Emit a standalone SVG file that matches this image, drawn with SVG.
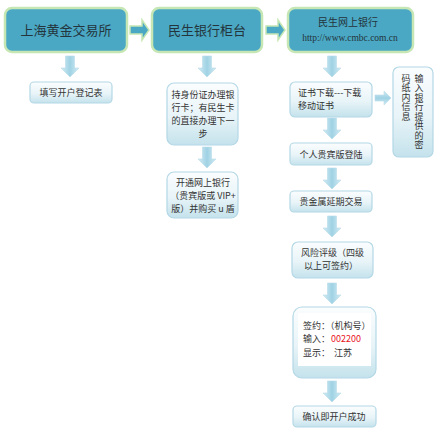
<svg xmlns="http://www.w3.org/2000/svg" width="440" height="432" viewBox="0 0 440 432">
<defs>
<linearGradient id="lg" x1="0" y1="0" x2="0" y2="1">
<stop offset="0" stop-color="#fbfdfe"/>
<stop offset="0.55" stop-color="#e8f4f8"/>
<stop offset="1" stop-color="#c4e2ec"/>
</linearGradient>
<linearGradient id="ag" x1="0" y1="0" x2="1" y2="0">
<stop offset="0" stop-color="#d4ecf4"/>
<stop offset="0.5" stop-color="#9fd2e4"/>
<stop offset="1" stop-color="#d4ecf4"/>
</linearGradient>
<linearGradient id="agh" x1="0" y1="0" x2="0" y2="1">
<stop offset="0" stop-color="#d4ecf4"/>
<stop offset="0.5" stop-color="#9fd2e4"/>
<stop offset="1" stop-color="#d4ecf4"/>
</linearGradient>
<path id="da" d="M-4.5,0 h9 v12 h4.5 l-9,9 l-9,-9 h4.5 z"/>
<path id="ra" d="M0,-4 h12 v-6 l7,10 l-7,10 v-6 h-12 z"/>
</defs>
<style>
.top{fill:#4aa8c4;stroke:#c6e6b4;stroke-width:2.5}
.tt{font-family:"Noto Sans CJK SC","Noto Sans",sans-serif;fill:#24343c;text-anchor:middle}
.box{fill:url(#lg);stroke:#b4d8e6;stroke-width:1.2}
.t{font-family:"Noto Sans CJK SC","Noto Sans",sans-serif;font-size:9px;fill:#333}
.tc{text-anchor:middle}
.vt{font-family:"Noto Sans CJK SC","Noto Sans",sans-serif;font-size:9px;fill:#333;writing-mode:vertical-rl;letter-spacing:0.5px}
.dar{fill:url(#ag);stroke:#b8dcea;stroke-width:0.6}
.har{fill:#4aa8c4;stroke:#c6e6b4;stroke-width:1.5}
</style>
<rect width="440" height="432" fill="#ffffff"/>
<g id="connectors">
<use href="#ra" x="130" y="30" class="har"/>
<use href="#ra" x="266" y="30" class="har"/>
<use href="#da" x="70" y="56" class="dar"/>
<use href="#da" x="207" y="56" class="dar"/>
<use href="#da" x="207" y="147" class="dar"/>
<use href="#da" x="332" y="56" class="dar"/>
<use href="#da" x="332" y="118" class="dar"/>
<use href="#da" x="332" y="168" class="dar"/>
<use href="#da" x="332" y="216" class="dar"/>
<use href="#da" x="332" y="283" class="dar"/>
<use href="#da" x="332" y="381" class="dar"/>
<path d="M375,95 h9 v-4 l7,7 l-7,7 v-4 h-9 z" fill="url(#agh)" stroke="#b8dcea" stroke-width="0.6"/>
</g>
<g id="n1">
<rect x="5" y="8" width="122" height="44" rx="7" class="top"/>
<text x="66" y="35" class="tt" font-size="13">上海黄金交易所</text>
</g>
<g id="n2">
<rect x="152" y="8" width="110" height="44" rx="7" class="top"/>
<text x="207" y="35" class="tt" font-size="13">民生银行柜台</text>
</g>
<g id="n3">
<rect x="288" y="8" width="125" height="44" rx="7" class="top"/>
<text x="348" y="26" class="tt" font-size="10">民生网上银行</text>
<text x="350" y="41" class="tt" font-size="9.5" style="font-family:'Liberation Serif',serif">http://www.cmbc.com.cn</text>
</g>
<g id="n4">
<rect x="30" y="82" width="82" height="21" rx="4" class="box"/>
<text x="71" y="96" class="t tc">填写开户登记表</text>
</g>
<g id="n5">
<rect x="167" y="83" width="71" height="62" rx="7" class="box"/>
<text class="t tc"><tspan x="203" y="98">持身份证办理银</tspan><tspan x="203" y="111">行卡；有民生卡</tspan><tspan x="203" y="124">的直接办理下一</tspan><tspan x="203" y="137">步</tspan></text>
</g>
<g id="n6">
<rect x="167" y="172" width="71" height="46" rx="7" class="box"/>
<text class="t tc"><tspan x="203" y="186">开通网上银行</tspan><tspan x="203" y="199">（贵宾版或 VIP+</tspan><tspan x="203" y="212">版）并购买 u 盾</tspan></text>
</g>
<g id="n7">
<rect x="290" y="82" width="82" height="35" rx="5" class="box"/>
<text class="t"><tspan x="298" y="96">证书下载---下载</tspan><tspan x="298" y="109">移动证书</tspan></text>
</g>
<g id="n8">
<rect x="393" y="67" width="40" height="90" rx="6" class="box"/>
<text x="419" y="74" class="vt">输入银行提供的密</text>
<text x="406" y="74" class="vt">码纸内信息</text>
</g>
<g id="n9">
<rect x="290" y="143" width="82" height="22" rx="4" class="box"/>
<text x="331" y="158" class="t tc">个人贵宾版登陆</text>
</g>
<g id="n10">
<rect x="290" y="191" width="82" height="21" rx="4" class="box"/>
<text x="331" y="205" class="t tc">贵金属延期交易</text>
</g>
<g id="n11">
<rect x="292" y="242" width="81" height="36" rx="6" class="box"/>
<text class="t"><tspan x="301" y="256">风险评级（四级</tspan><tspan x="304" y="269">以上可签约）</tspan></text>
</g>
<g id="n12">
<rect x="293" y="307" width="83" height="71" rx="9" class="box"/>
<rect x="298" y="313" width="73" height="53" fill="#ffffff"/>
<text class="t"><tspan x="303" y="329">签约：（机构号）</tspan><tspan x="303" y="342">输入：</tspan><tspan x="303" y="356">显示：</tspan></text>
<text x="331" y="342" class="t" style="fill:#e8141c" font-size="8.5">002200</text>
<text x="334" y="356" class="t">江苏</text>
</g>
<g id="n13">
<rect x="293" y="406" width="83" height="21" rx="4" class="box"/>
<text x="334" y="420" class="t tc">确认即开户成功</text>
</g>
</svg>
